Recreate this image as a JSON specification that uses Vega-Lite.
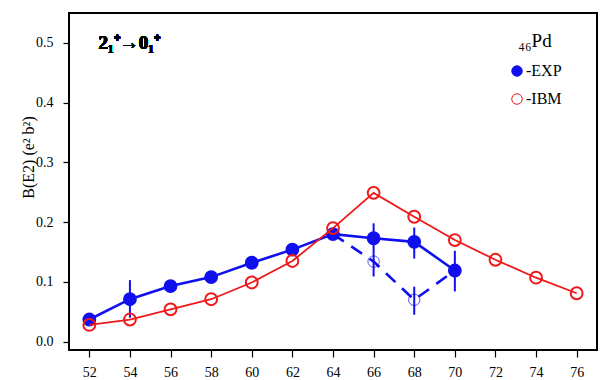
{
  "$schema": "https://vega.github.io/schema/vega-lite/v6.json",
  "width": 528,
  "height": 337,
  "autosize": {"type": "none"},
  "padding": {"left": 69, "top": 13, "right": 6, "bottom": 30},
  "background": "white",
  "config": {
    "font": "Times New Roman",
    "view": {"stroke": "black", "strokeWidth": 2},
    "axis": {
      "domain": false,
      "grid": false,
      "ticks": true,
      "tickColor": "black",
      "tickWidth": 1.2,
      "labelColor": "black",
      "labelFont": "Times New Roman",
      "titleFont": "Times New Roman",
      "titleColor": "black",
      "titleFontWeight": "normal"
    },
    "legend": {
      "titleFont": "Times New Roman",
      "labelFont": "Times New Roman"
    }
  },
  "datasets": {
    "b": [
      {"N": 52, "B": 0.037, "series": "EXP"},
      {"N": 54, "B": 0.071, "series": "EXP", "lo": 0.040, "hi": 0.103},
      {"N": 56, "B": 0.093, "series": "EXP"},
      {"N": 58, "B": 0.108, "series": "EXP"},
      {"N": 60, "B": 0.132, "series": "EXP"},
      {"N": 62, "B": 0.154, "series": "EXP"},
      {"N": 64, "B": 0.180, "series": "EXP"},
      {"N": 66, "B": 0.173, "series": "EXP", "lo": 0.109, "hi": 0.198},
      {"N": 68, "B": 0.167, "series": "EXP", "lo": 0.139, "hi": 0.191},
      {"N": 70, "B": 0.119, "series": "EXP", "lo": 0.084, "hi": 0.152},
      {"N": 64, "B": 0.180, "series": "EXP2"},
      {"N": 66, "B": 0.134, "series": "EXP2"},
      {"N": 68, "B": 0.070, "series": "EXP2", "lo": 0.045, "hi": 0.092},
      {"N": 70, "B": 0.119, "series": "EXP2"},
      {"N": 52, "B": 0.028, "series": "IBM"},
      {"N": 54, "B": 0.037, "series": "IBM"},
      {"N": 56, "B": 0.054, "series": "IBM"},
      {"N": 58, "B": 0.071, "series": "IBM"},
      {"N": 60, "B": 0.099, "series": "IBM"},
      {"N": 62, "B": 0.135, "series": "IBM"},
      {"N": 64, "B": 0.190, "series": "IBM"},
      {"N": 66, "B": 0.249, "series": "IBM"},
      {"N": 68, "B": 0.209, "series": "IBM"},
      {"N": 70, "B": 0.170, "series": "IBM"},
      {"N": 72, "B": 0.137, "series": "IBM"},
      {"N": 74, "B": 0.107, "series": "IBM"},
      {"N": 76, "B": 0.081, "series": "IBM"}
    ]
  },
  "data": {"name": "b"},
  "encoding": {
    "x": {
      "field": "N",
      "type": "quantitative",
      "scale": {"domain": [51, 77], "nice": false, "zero": false},
      "axis": {
        "title": null,
        "values": [52, 54, 56, 58, 60, 62, 64, 66, 68, 70, 72, 74, 76],
        "tickSize": 7,
        "labelPadding": 8,
        "labelFontSize": 14
      }
    },
    "y": {
      "field": "B",
      "type": "quantitative",
      "scale": {"domain": [-0.014, 0.55], "nice": false, "zero": false},
      "axis": {
        "title": "B(E2) (e² b²)",
        "titleFontSize": 16,
        "titleX": -33,
        "titleY": 144,
        "titleAngle": 270,
        "titleAlign": "center",
        "titleBaseline": "bottom",
        "values": [0, 0.1, 0.2, 0.3, 0.4, 0.5],
        "format": ".1f",
        "tickSize": 6,
        "labelPadding": 10,
        "labelFontSize": 14
      }
    }
  },
  "layer": [
    {
      "transform": [{"filter": "datum.series == 'EXP'"}],
      "mark": {"type": "line", "color": "#1010ee", "strokeWidth": 2.6}
    },
    {
      "transform": [{"filter": "datum.series == 'EXP2'"}],
      "mark": {"type": "line", "color": "#1010ee", "strokeWidth": 2.6, "strokeDash": [13, 9]}
    },
    {
      "transform": [{"filter": "isValid(datum.lo)"}],
      "mark": {"type": "rule", "color": "#1010ee", "strokeWidth": 2},
      "encoding": {"y": {"field": "lo", "type": "quantitative"}, "y2": {"field": "hi"}}
    },
    {
      "transform": [{"filter": "datum.series == 'EXP2'"}, {"filter": "datum.N != 64 && datum.N != 70"}],
      "mark": {"type": "point", "shape": "circle", "filled": false, "color": "#1010ee", "size": 130, "strokeWidth": 1}
    },
    {
      "transform": [{"filter": "datum.series == 'EXP' || datum.series == 'IBM'"}],
      "mark": {"type": "point", "shape": "circle", "size": 140, "opacity": 1},
      "encoding": {
        "stroke": {
          "field": "series",
          "type": "nominal",
          "scale": {"domain": ["EXP", "IBM"], "range": ["#1010ee", "#f01818"]},
          "legend": {
            "title": "₄₆Pd",
            "orient": "none",
            "legendX": 440,
            "legendY": 19,
            "titleFontSize": 19,
            "titleFontWeight": "normal",
            "titleColor": "black",
            "titleAnchor": "middle",
            "titlePadding": 12,
            "labelExpr": "'-' + datum.label",
            "labelFontSize": 16,
            "labelOffset": 1,
            "rowPadding": 12,
            "symbolSize": 110,
            "symbolStrokeWidth": 1,
            "encode": {
              "labels": {"update": {"fill": {"signal": "datum.value == 'EXP' ? '#1010ee' : '#f01818'"}}}
            }
          }
        },
        "fill": {
          "field": "series",
          "type": "nominal",
          "scale": {"domain": ["EXP", "IBM"], "range": ["#1010ee", "transparent"]},
          "legend": {
            "title": "₄₆Pd",
            "orient": "none",
            "legendX": 440,
            "legendY": 19,
            "titleFontSize": 19,
            "titleFontWeight": "normal",
            "titleColor": "black",
            "titleAnchor": "middle",
            "titlePadding": 12,
            "labelExpr": "'-' + datum.label",
            "labelFontSize": 16,
            "labelOffset": 1,
            "rowPadding": 12,
            "symbolSize": 110,
            "symbolStrokeWidth": 1,
            "encode": {
              "labels": {"update": {"fill": {"signal": "datum.value == 'EXP' ? '#1010ee' : '#f01818'"}}}
            }
          }
        }
      }
    },
    {
      "transform": [{"filter": "datum.series == 'IBM'"}],
      "mark": {"type": "line", "color": "#f01818", "strokeWidth": 1.8}
    },
    {
      "mark": {"type": "text", "text": "2₁⁺→0₁⁺", "align": "left", "baseline": "middle", "fontSize": 19, "fontWeight": "bold", "font": "Times New Roman", "color": "black"},
      "encoding": {"x": {"datum": 52.45}, "y": {"datum": 0.5}}
    }
  ]
}
